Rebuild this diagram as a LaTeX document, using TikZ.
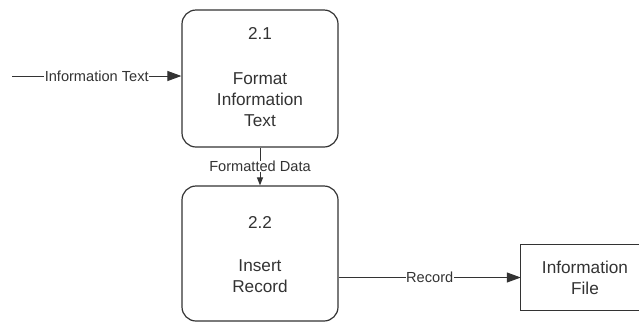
\documentclass[tikz,border=0pt]{standalone}
\usepackage{fontspec}
\setmainfont{Liberation Sans}
\usetikzlibrary{arrows.meta}
\definecolor{ink}{HTML}{333333}
\definecolor{edge}{HTML}{333333}
\tikzset{
  procbox/.style={draw=edge, line width=1.2pt, rounded corners=14pt, minimum width=156pt, inner sep=0pt},
  boxtext/.style={text=ink, font=\fontsize{17.2}{21}\selectfont, align=center, inner sep=0pt},
  flowlbl/.style={text=ink, font=\fontsize{14.6}{16}\selectfont, fill=white, inner sep=0.5pt},
  flow/.style={draw=edge, line width=1pt, -{Triangle[length=14pt,width=10pt]}},
  smallflow/.style={draw=edge, line width=1pt, -{Triangle[length=8pt,width=6pt]}},
}
\begin{document}
\begin{tikzpicture}[x=1pt, y=-1pt]
\clip (0,0) rectangle (639,322);
% processes
\node[procbox, minimum height=137pt] (box1) at (260,78.5) {};
\node[boxtext] (num1) at (260,33) {2.1};
\node[boxtext] (txt1) at (260,100) {Format\\Information\\Text};
\node[procbox, minimum height=135pt] (box2) at (260,253.5) {};
\node[boxtext] (num2) at (260,222) {2.2};
\node[boxtext] (txt2) at (260,276.5) {Insert\\Record};
% data store
\node[boxtext, minimum width=128pt, minimum height=65pt] (store) at (585,277.5) {Information\\File};
\draw[draw=edge, line width=1.2pt] (store.north east) -- (store.north west) -- (store.south west) -- (store.south east);
% flows
\coordinate (src) at (12,76);
\draw[flow] (src) -- node[flowlbl] (l1) {Information Text} (src -| box1.west);
\draw[smallflow] (box1.south) -- node[flowlbl, pos=0.5] (l2) {Formatted Data} (box2.north);
\draw[flow] (box2.east |- store.west) -- node[flowlbl] (l3) {Record} (store.west);
\end{tikzpicture}
\end{document}
